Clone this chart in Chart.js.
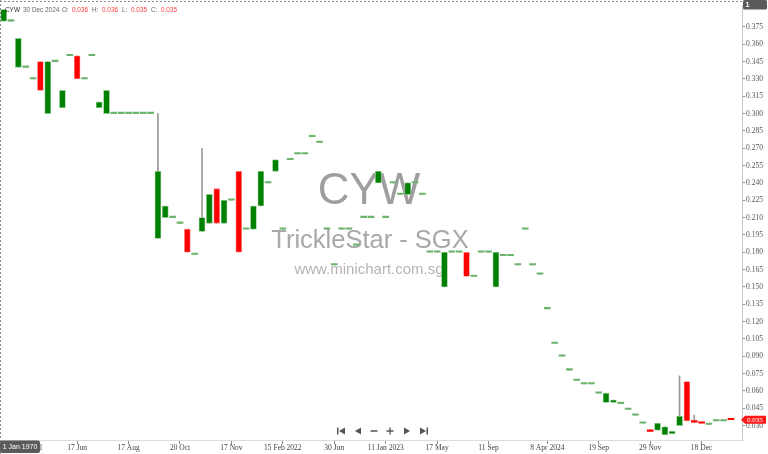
<!DOCTYPE html>
<html>
<head>
<meta charset="utf-8">
<script src="https://cdn.jsdelivr.net/npm/chart.js@4.4.1/dist/chart.umd.min.js"></script>
<style>
  html, body { margin: 0; padding: 0; background: #fff; }
  #chart { display: block; }
</style>
</head>
<body>
<canvas id="chart" width="768" height="454"></canvas>
<script>
// CYW daily candles, oldest first (one slot left empty on the right)
const opens = [
  .380, .380, .340, .340, .330, .345, .300, .345, .305, .350,
  .350, .330, .350, .305, .300, .300, .300, .300, .300, .300,
  .300, .192, .210, .210, .205, .200, .178, .198, .205, .235,
  .205, .225, .250, .200, .200, .220, .240, .250, .200, .260,
  .265, .265, .280, .275, .200, .169, .200, .200, .186, .210,
  .210, .240, .210, .240, .230, .230, .240, .230, .180, .180,
  .150, .180, .180, .180, .159, .180, .180, .150, .177, .177,
  .169, .200, .169, .161, .131, .101, .090, .078, .069, .066,
  .066, .058, .050, .050, .049, .044, .039, .032, .026, .026,
  .022, .023, .030, .068, .034, .033, .031, .034, .034, .036
];
const highs = [
  .390, .380, .365, .340, .330, .345, .345, .345, .320, .350,
  .350, .330, .350, .310, .320, .300, .300, .300, .300, .300,
  .300, .300, .220, .210, .205, .200, .178, .270, .230, .235,
  .225, .225, .250, .200, .220, .250, .240, .260, .200, .260,
  .265, .265, .280, .275, .200, .169, .200, .200, .186, .210,
  .210, .250, .210, .240, .230, .240, .240, .230, .180, .180,
  .180, .180, .180, .180, .159, .180, .180, .180, .177, .177,
  .169, .200, .169, .161, .131, .101, .090, .078, .069, .066,
  .066, .058, .058, .052, .049, .044, .039, .032, .026, .032,
  .029, .025, .073, .068, .039, .033, .031, .034, .034, .036
];
const lows = [
  .380, .380, .340, .340, .330, .320, .300, .345, .305, .350,
  .330, .330, .350, .305, .300, .300, .300, .300, .300, .300,
  .300, .192, .210, .210, .205, .180, .178, .198, .205, .205,
  .205, .225, .180, .200, .200, .220, .240, .250, .200, .260,
  .265, .265, .280, .275, .200, .169, .200, .200, .186, .210,
  .210, .240, .210, .240, .230, .230, .240, .230, .180, .180,
  .150, .180, .180, .159, .159, .180, .180, .150, .177, .177,
  .169, .200, .169, .161, .131, .101, .090, .078, .069, .066,
  .066, .058, .050, .050, .049, .044, .039, .032, .025, .026,
  .022, .023, .030, .034, .033, .032, .031, .034, .034, .035
];
const closes = [
  .390, .380, .365, .340, .330, .320, .345, .345, .320, .350,
  .330, .330, .350, .310, .320, .300, .300, .300, .300, .300,
  .300, .250, .220, .210, .205, .180, .178, .210, .230, .205,
  .225, .225, .180, .200, .220, .250, .240, .260, .200, .260,
  .265, .265, .280, .275, .200, .169, .200, .200, .186, .210,
  .210, .250, .210, .240, .230, .240, .240, .230, .180, .180,
  .180, .180, .180, .159, .159, .180, .180, .180, .177, .177,
  .169, .200, .169, .161, .131, .101, .090, .078, .069, .066,
  .066, .058, .058, .052, .049, .044, .039, .032, .025, .032,
  .029, .025, .038, .034, .033, .032, .031, .034, .034, .035
];

// date labels on the time axis, by candle slot
const tickSlots = [3, 10, 17, 24, 31, 38, 45, 52, 59, 66, 74, 81, 88, 95];
const tickText = ['1 Apr 2021', '17 Jun', '17 Aug', '20 Oct', '17 Nov', '15 Feb 2022', '30 Jun',
  '11 Jan 2023', '17 May', '11 Sep', '8 Apr 2024', '19 Sep', '29 Nov', '18 Dec'];

const priceTicks = [0.030, 0.045, 0.060, 0.075, 0.090, 0.105, 0.120, 0.135, 0.150, 0.165, 0.180,
  0.195, 0.210, 0.225, 0.240, 0.255, 0.270, 0.285, 0.300, 0.315, 0.330, 0.345, 0.360, 0.375];

const lastBar = { date: '30 Dec 2024', o: '0.036', h: '0.036', l: '0.035', c: '0.035' };

const slots = opens.map((o, i) => String(i)).concat(['']);

const UP = '#008000', DOWN = '#ff0000';
const SERIF = '"Liberation Serif", "DejaVu Serif", serif';
const SANS = '"Liberation Sans", Arial, sans-serif';

function isUp(i) { return closes[i] >= opens[i]; }
function isThin(i) { return Math.abs(closes[i] - opens[i]) < 0.0015; }

const watermark = {
  id: 'watermark',
  beforeDatasetsDraw(chart) {
    const c = chart.ctx;
    c.save();
    c.textAlign = 'center';
    c.textBaseline = 'middle';
    c.fillStyle = '#9e9e9e';
    c.font = '44px ' + SANS;
    c.fillText('CYW', 369, 192);
    c.fillStyle = '#a8a8a8';
    c.font = '25.5px ' + SANS;
    c.fillText('TrickleStar - SGX', 370, 241);
    c.fillStyle = '#b4b4b4';
    c.font = '15px ' + SANS;
    c.fillText('www.minichart.com.sg', 369, 270);
    c.restore();
  }
};

function tri(c, pts) {
  c.beginPath();
  c.moveTo(pts[0], pts[1]);
  c.lineTo(pts[2], pts[3]);
  c.lineTo(pts[4], pts[5]);
  c.closePath();
  c.fill();
}

const overlay = {
  id: 'overlay',
  afterDraw(chart) {
    const c = chart.ctx;
    const area = chart.chartArea;
    const yScale = chart.scales.y;
    c.save();
    c.textAlign = 'left';

    // dotted frame
    c.strokeStyle = '#8a8a8a';
    c.lineWidth = 1;
    c.setLineDash([2, 2]);
    c.beginPath();
    c.moveTo(0, 1.5); c.lineTo(area.right, 1.5);
    c.moveTo(0.5, 0); c.lineTo(0.5, 454);
    c.stroke();
    c.setLineDash([]);

    // header line
    c.textBaseline = 'middle';
    c.font = '6.4px ' + SANS;
    c.fillStyle = '#333';
    c.fillText('CYW', 5, 10);
    c.fillStyle = '#666';
    c.fillText(lastBar.date, 23, 10);
    const parts = [['O:', 62, lastBar.o, 72], ['H:', 92, lastBar.h, 102],
                   ['L:', 122, lastBar.l, 131], ['C:', 151, lastBar.c, 161]];
    parts.forEach(p => {
      c.fillStyle = '#666';
      c.fillText(p[0], p[1], 10);
      c.fillStyle = '#ff3b3b';
      c.fillText(p[2], p[3], 10);
    });

    // corner box at the top of the price axis
    c.fillStyle = '#5a5a5a';
    c.beginPath();
    c.roundRect(743, 0, 24, 9.5, 1.5);
    c.fill();
    c.fillStyle = '#fff';
    c.font = 'bold 7px ' + SANS;
    c.fillText('1', 745.5, 5);

    // last price marker
    const py = yScale.getPixelForValue(closes[closes.length - 1]);
    c.fillStyle = '#ff1a1a';
    c.beginPath();
    c.moveTo(741, py);
    c.lineTo(745, py - 4);
    c.lineTo(766, py - 4);
    c.lineTo(766, py + 4);
    c.lineTo(745, py + 4);
    c.closePath();
    c.fill();
    c.fillStyle = '#fff';
    c.font = '7px ' + SERIF;
    c.fillText(lastBar.c, 747, py + 0.5);

    // crosshair date box
    c.fillStyle = '#5a5a5a';
    c.beginPath();
    c.roundRect(0, 440.5, 40, 12.5, 2);
    c.fill();
    c.fillStyle = '#fff';
    c.font = '7px ' + SANS;
    c.textAlign = 'center';
    c.fillText('1 Jan 1970', 20, 447);
    c.textAlign = 'left';

    // navigation buttons
    c.fillStyle = '#555';
    c.strokeStyle = '#555';
    c.lineWidth = 1.3;
    const ny = 431;
    c.fillRect(337, ny - 3.5, 1.5, 7);
    tri(c, [345, ny - 3.5, 345, ny + 3.5, 339, ny]);
    tri(c, [361, ny - 3.5, 361, ny + 3.5, 355, ny]);
    c.beginPath();
    c.moveTo(370.5, ny); c.lineTo(377.5, ny);
    c.moveTo(386.5, ny); c.lineTo(393.5, ny);
    c.moveTo(390, ny - 3.5); c.lineTo(390, ny + 3.5);
    c.stroke();
    tri(c, [404, ny - 3.5, 404, ny + 3.5, 410, ny]);
    tri(c, [420, ny - 3.5, 420, ny + 3.5, 426, ny]);
    c.fillRect(426.5, ny - 3.5, 1.5, 7);

    c.restore();
  }
};

new Chart(document.getElementById('chart'), {
  type: 'bar',
  data: {
    labels: slots,
    datasets: [
      {
        label: 'wick',
        data: lows.map((l, i) => [l, highs[i]]),
        backgroundColor: '#9a9a9a',
        barThickness: 1,
        grouped: false,
        order: 2
      },
      {
        label: 'body',
        data: opens.map((o, i) => [o, closes[i]]),
        backgroundColor: ctx => {
          const i = ctx.dataIndex;
          if (opens[i] === closes[i]) return '#6cb46c';
          return isUp(i) ? UP : DOWN;
        },
        borderColor: ctx => isUp(ctx.dataIndex) ? '#8cc88c' : '#ff9a9a',
        borderWidth: ctx => isThin(ctx.dataIndex) ? 0 : 0.8,
        borderSkipped: false,
        barThickness: 6,
        minBarLength: 1.4,
        grouped: false,
        order: 1
      }
    ]
  },
  options: {
    responsive: false,
    animation: false,
    layout: { padding: { top: 2, left: 0, right: 0, bottom: 0 } },
    plugins: { legend: { display: false }, tooltip: { enabled: false } },
    scales: {
      x: {
        offset: true,
        grid: { display: true, drawOnChartArea: false, offset: false, tickLength: 4, color: '#8a8a8a' },
        border: { display: true, color: '#dcdcdc' },
        ticks: {
          autoSkip: false,
          maxRotation: 0,
          padding: 0,
          color: '#444',
          font: { family: SERIF, size: 7.5 },
          callback: (v) => {
            const k = tickSlots.indexOf(v);
            return k >= 0 ? tickText[k] : '';
          }
        },
        afterBuildTicks: s => { s.ticks = tickSlots.map(v => ({ value: v })); },
        afterFit: s => { s.height = 14; }
      },
      y: {
        position: 'right',
        min: 0.0175,
        max: 0.3935,
        grid: { display: true, drawOnChartArea: false, tickLength: 3, color: '#8a8a8a' },
        border: { display: true, color: '#c8c8c8' },
        ticks: {
          padding: 1,
          color: '#555',
          font: { family: SERIF, size: 7.5 },
          callback: v => v.toFixed(3)
        },
        afterBuildTicks: s => { s.ticks = priceTicks.map(v => ({ value: v })); },
        afterFit: s => { s.width = 26; }
      }
    }
  },
  plugins: [watermark, overlay]
});
</script>
</body>
</html>
